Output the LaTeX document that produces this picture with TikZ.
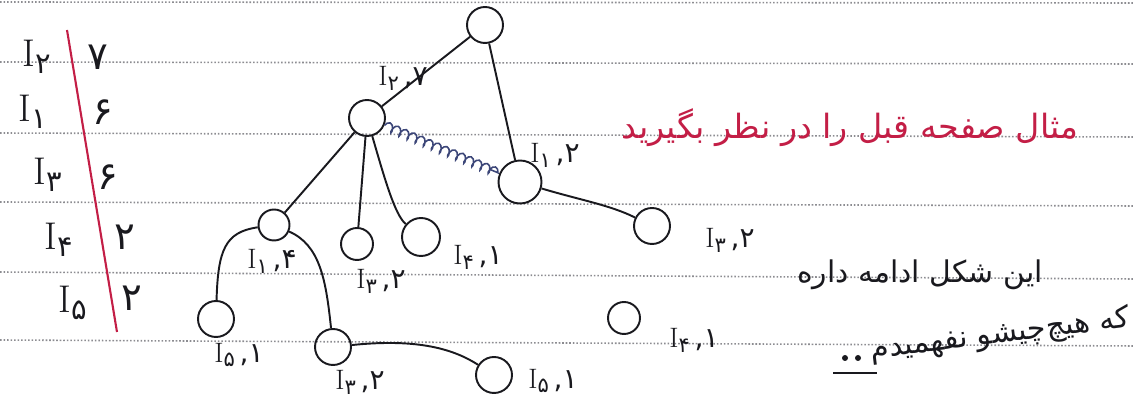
\documentclass[tikz,border=0pt]{standalone}
\usepackage{fontspec}
\usepackage{graphicx}
\usetikzlibrary{decorations.pathmorphing}
\newfontfamily\fa[Script=Arabic]{DejaVu Sans}
\newfontfamily\fadig{DejaVu Sans}
\TeXXeTstate=1
\definecolor{ink}{RGB}{25,25,30}
\definecolor{redink}{RGB}{195,30,70}
\definecolor{chainink}{RGB}{60,70,120}
\definecolor{paperrule}{RGB}{140,140,145}
\newcommand{\isub}[1]{{\rmfamily I}\raisebox{-.4ex}{\fadig\scalebox{0.75}{#1}}}
\newcommand{\fpi}[2]{\isub{#1}{\fadig\,,#2}}

\begin{document}
\begin{tikzpicture}[x=0.02cm, y=-0.02cm,
    vtx/.style={draw=ink, circle, line width=1.1pt, minimum size=0.72cm,
                inner sep=0pt},
    conn/.style={draw=ink, line width=1.1pt},
    chain/.style={draw=chainink, line width=0.9pt, shorten >=6pt,
                  decorate, decoration={coil, aspect=0.5,
                  segment length=5pt, amplitude=2.5pt}},
    lbl/.style={font=\fontsize{16}{16}\selectfont, text=ink, inner sep=1pt},
    tbl/.style={font=\fontsize{22}{22}\selectfont, text=ink, inner sep=1pt},
    ruled/.style={draw=paperrule, line width=0.9pt,
                  dash pattern=on 0.9pt off 1.1pt},
    note/.style={font=\fa\fontsize{17}{20}\selectfont, inner sep=1pt}
]
\useasboundingbox (0,0) rectangle (1133,401);

% notebook lines
\draw[ruled] (0,2) -- (1133,3);
\draw[ruled] (0,62) -- (1133,64);
\draw[ruled] (0,133) -- (1133,137);
\draw[ruled] (0,202) -- (1133,206);
\draw[ruled] (0,272) -- (1133,279);
\draw[ruled] (0,340) -- (1133,346);

% item counts
\node[tbl] (ta) at (37,57) {\isub{۲}};
\node[tbl] (fa) at (98,57) {\fadig ۷};
\node[tbl] (tb) at (33,112) {\isub{۱}};
\node[tbl] (fb) at (103,112) {\fadig ۶};
\node[tbl] (tc) at (48,175) {\isub{۳}};
\node[tbl] (fc) at (108,177) {\fadig ۶};
\node[tbl] (td) at (59,240) {\isub{۴}};
\node[tbl] (fd) at (125,237) {\fadig ۲};
\node[tbl] (te) at (73,303) {\isub{۵}};
\node[tbl] (fe) at (132,298) {\fadig ۲};
\draw[redink, line width=1.2pt] (67,30) -- (117,332);

% tree
\node[vtx] (root) at (485,25) {};
\node[vtx] (i2) at (367,118) {};
\node[vtx, minimum size=0.86cm] (i1r) at (520,182) {};
\node[vtx, minimum size=0.62cm] (i1) at (274,225) {};
\node[vtx, minimum size=0.64cm] (i3a) at (357,244) {};
\node[vtx, minimum size=0.76cm] (i4a) at (421,237) {};
\node[vtx] (i5a) at (216,319) {};
\node[vtx] (i3b) at (333,347) {};
\node[vtx] (i5b) at (494,375) {};
\node[vtx] (i3c) at (652,226) {};
\node[vtx, minimum size=0.64cm] (i4b) at (624,318) {};

\node[lbl] (l2) at (403,78) {\fpi{۲}{۷}};
\node[lbl] (l1r) at (555,155) {\fpi{۱}{۲}};
\node[lbl] (l1) at (272,261) {\fpi{۱}{۴}};
\node[lbl] (l3a) at (381,281) {\fpi{۳}{۲}};
\node[lbl] (l4a) at (478,257) {\fpi{۴}{۱}};
\node[lbl] (l5a) at (239,355) {\fpi{۵}{۱}};
\node[lbl] (l3b) at (360,382) {\fpi{۳}{۲}};
\node[lbl] (l5b) at (553,381) {\fpi{۵}{۱}};
\node[lbl] (l3c) at (730,240) {\fpi{۳}{۲}};
\node[lbl] (l4b) at (694,340) {\fpi{۴}{۱}};

\draw[conn] (root) -- (i2);
\draw[conn] (root) -- (i1r);
\draw[conn] (i2) -- (i1);
\draw[conn] (i2) -- (i3a);
\draw[conn] (i2) .. controls (385,180) and (395,215) .. (i4a);
\draw[conn] (i1) .. controls (225,232) and (218,250) .. (i5a);
\draw[conn] (i1) .. controls (320,245) and (326,280) .. (i3b);
\draw[conn] (i3b) .. controls (420,338) and (455,350) .. (i5b);
\draw[conn] (i1r) .. controls (580,200) and (610,205) .. (i3c);
\draw[chain] (i2) -- (i1r);

% notes
\node[note, text=redink, font=\fa\fontsize{19}{22}\selectfont] (ex) at (850,128)
    {\beginR مثال صفحه قبل را در نظر بگیرید\endR};
\node[note, text=ink] (c1) at (920,275) {\beginR این شکل ادامه داره\endR};
\node[note, text=ink, rotate=7] (c2) at (1000,335)
    {\beginR که هیچ‌چیشو نفهمیدم\endR};
\fill[ink] (845,358) circle (3);
\fill[ink] (858,358) circle (3);
\draw[ink, line width=1pt] (833,373) -- (877,373);

\end{tikzpicture}
\end{document}
